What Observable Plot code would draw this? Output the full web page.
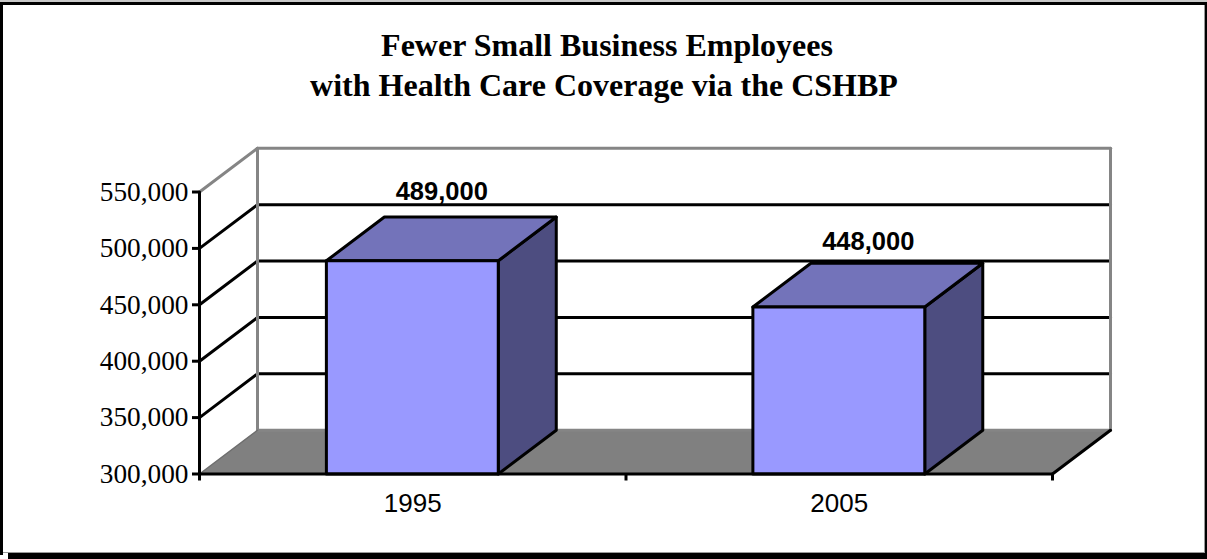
<!DOCTYPE html>
<html>
<head>
<meta charset="utf-8">
<script src="https://cdn.jsdelivr.net/npm/d3@7"></script>
<script src="https://cdn.jsdelivr.net/npm/@observablehq/plot@0.6"></script>
<style>
  html, body { margin: 0; padding: 0; background: #fff; overflow: hidden; }
  svg { display: block; }
</style>
</head>
<body>
<div id="chart"></div>
<script>
// Enrollment in the small-business health plan, by year
const years = ["1995", "2005"];
const employees = [489000, 448000];
const valueTicks = [300000, 350000, 400000, 450000, 500000, 550000];
const titleLines = ["Fewer Small Business Employees", "with Health Care Coverage via the CSHBP"];

// Oblique box: one unit of depth shifts a point along both axes
const depthX = 0.136;
const depthY = 38800;
const barWidth = 0.403;
const yMin = valueTicks[0];
const yMax = valueTicks[valueTicks.length - 1];
const xMax = years.length;
const lineWidth = 3;

const at = (x, v, d) => ({x: x + d * depthX, y: v + d * depthY});
const face = (points) => [...points, points[0]].map(([x, v, d]) => at(x, v, d));
const segment = (x1, v1, d1, x2, v2, d2) => [at(x1, v1, d1), at(x2, v2, d2)];
const poly = (points, options) => Plot.line(face(points), {x: "x", y: "y", ...options});
const seg = (s, options) => Plot.line(s, {x: "x", y: "y", ...options});

const gridStyle = {stroke: "#000", strokeWidth: lineWidth};
const wallStyle = {stroke: "#858585", strokeWidth: lineWidth};

const marks = [
  // Floor
  poly([[0, yMin, 0], [xMax, yMin, 0], [xMax, yMin, 1], [0, yMin, 1]], {fill: "#808080", stroke: "none"}),
  // Gridlines on the side and back walls
  ...valueTicks.slice(1, -1).flatMap((v) => [
    seg(segment(0, v, 0, 0, v, 1), gridStyle),
    seg(segment(0, v, 1, xMax, v, 1), gridStyle)
  ]),
  // Wall outlines
  seg(segment(0, yMax, 0, 0, yMax, 1), wallStyle),
  seg(segment(0, yMax, 1, xMax, yMax, 1), wallStyle),
  seg(segment(0, yMin, 1, 0, yMax, 1), wallStyle),
  seg(segment(xMax, yMin, 1, xMax, yMax, 1), wallStyle),
  seg(segment(0, yMin, 1, xMax, yMin, 1), wallStyle),
  seg(segment(0, yMin, 0, 0, yMin, 1), {stroke: "#6e6e6e", strokeWidth: 1.5}),
  seg(segment(xMax, yMin, 0, xMax, yMin, 1), gridStyle),
  // Bars: side, top, front
  ...employees.flatMap((v, i) => {
    const x0 = i + 0.5 - barWidth / 2 - 0.001;
    const x1 = i + 0.5 + barWidth / 2 - 0.001;
    const style = {stroke: "#000", strokeWidth: lineWidth, strokeLinejoin: "round"};
    return [
      poly([[x1, yMin, 0], [x1, yMin, 1], [x1, v, 1], [x1, v, 0]], {fill: "#4d4d80", ...style}),
      poly([[x0, v, 0], [x1, v, 0], [x1, v, 1], [x0, v, 1]], {fill: "#7373ba", ...style}),
      poly([[x0, yMin, 0], [x1, yMin, 0], [x1, v, 0], [x0, v, 0]], {fill: "#9999ff", ...style})
    ];
  }),
  // Front axis lines
  seg(segment(0, yMin, 0, 0, yMax, 0), gridStyle),
  seg(segment(0, yMin, 0, xMax, yMin, 0), gridStyle),
  Plot.axisY({
    ticks: valueTicks,
    tickSize: 7,
    tickPadding: 4,
    strokeWidth: lineWidth,
    tickFormat: d3.format(","),
    fontFamily: "Liberation Serif",
    fontSize: 27.3,
    fill: "#000",
    label: null
  }),
  Plot.axisX({
    ticks: d3.range(xMax + 1),
    tickSize: 7,
    strokeWidth: lineWidth,
    tickFormat: () => "",
    label: null
  }),
  Plot.axisX({
    ticks: years.map((_, i) => i + 0.5),
    tickSize: 0,
    tickPadding: 20,
    tickFormat: (d) => years[d - 0.5],
    fontFamily: "Liberation Sans",
    fontSize: 26,
    fill: "#000",
    label: null
  }),
  // Value labels over the back edge of each bar
  ...employees.map((v, i) => Plot.text([v], {
    x: () => i + 0.5 + depthX / 2,
    y: (d) => d + depthY,
    text: d3.format(","),
    dy: i === 0 ? -25 : -21,
    fontFamily: "Liberation Sans",
    fontWeight: "bold",
    fontSize: 25.5,
    fill: "#000"
  })),
  // Title, one mark per line
  ...titleLines.map((line, i) => Plot.text([line], {
    frameAnchor: "top",
    text: (d) => d,
    dx: i === 0 ? -19 : -22,
    dy: i === 0 ? -159 : -119,
    fontFamily: "Liberation Serif",
    fontWeight: "bold",
    fontSize: 32,
    fill: "#000"
  })),
  // Outer border with its drop edge
  () => {
    const g = d3.create("svg:g").attr("stroke", "none");
    g.append("rect").attr("x", 0).attr("y", 0).attr("width", 1207).attr("height", 2).attr("fill", "#c8c8c8");
    g.append("rect").attr("x", 0).attr("y", 2).attr("width", 1207).attr("height", 3).attr("fill", "#000");
    g.append("rect").attr("x", 0).attr("y", 2).attr("width", 3).attr("height", 553).attr("fill", "#000");
    g.append("rect").attr("x", 3).attr("y", 552).attr("width", 1202).attr("height", 1).attr("fill", "#999");
    g.append("rect").attr("x", 1204).attr("y", 5).attr("width", 1).attr("height", 547).attr("fill", "#999");
    g.append("rect").attr("x", 1205).attr("y", 2).attr("width", 2).attr("height", 557).attr("fill", "#000");
    g.append("rect").attr("x", 8).attr("y", 553).attr("width", 1199).attr("height", 6).attr("fill", "#000");
    return g.node();
  }
];

const chart = Plot.plot({
  width: 1207,
  height: 559,
  marginLeft: 199,
  marginRight: 155,
  marginTop: 191.5,
  marginBottom: 85.5,
  style: {background: "#fff", overflow: "visible"},
  x: {domain: [0, xMax], axis: null},
  y: {domain: [yMin, yMax], axis: null},
  marks
});
document.getElementById("chart").append(chart);
</script>
</body>
</html>
